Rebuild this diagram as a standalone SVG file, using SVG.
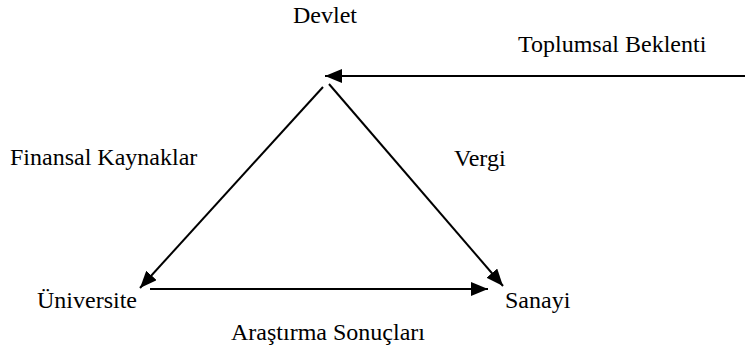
<svg xmlns="http://www.w3.org/2000/svg" width="745" height="349" viewBox="0 0 745 349">
<defs>
<style>
text{font-family:"Liberation Serif","Times New Roman",serif;font-size:24px;fill:#000}
.c line{stroke:#000;stroke-width:2;fill:none}
</style>
<marker id="ah" viewBox="0 0 17 14" refX="17" refY="7" markerWidth="17" markerHeight="14" markerUnits="userSpaceOnUse" orient="auto"><path d="M0,0 L17,7 L0,14 z" fill="#000"/></marker>
</defs>
<rect width="745" height="349" fill="#fff"/>
<g class="c" id="connectors">
<line x1="745" y1="76" x2="325" y2="76" marker-end="url(#ah)"/>
<line x1="323" y1="87" x2="140" y2="288" marker-end="url(#ah)"/>
<line x1="329" y1="84" x2="503" y2="286" marker-end="url(#ah)"/>
<line x1="150" y1="289" x2="488" y2="289" marker-end="url(#ah)"/>
</g>
<g id="devlet"><text x="293" y="23">Devlet</text></g>
<g id="toplumsal"><text x="518" y="52">Toplumsal Beklenti</text></g>
<g id="universite"><text x="37" y="308">Üniversite</text></g>
<g id="sanayi"><text x="505" y="308">Sanayi</text></g>
<g id="label-finansal"><text x="10" y="165">Finansal Kaynaklar</text></g>
<g id="label-vergi"><text x="454" y="166">Vergi</text></g>
<g id="label-arastirma"><text x="231" y="340">Araştırma Sonuçları</text></g>
</svg>
